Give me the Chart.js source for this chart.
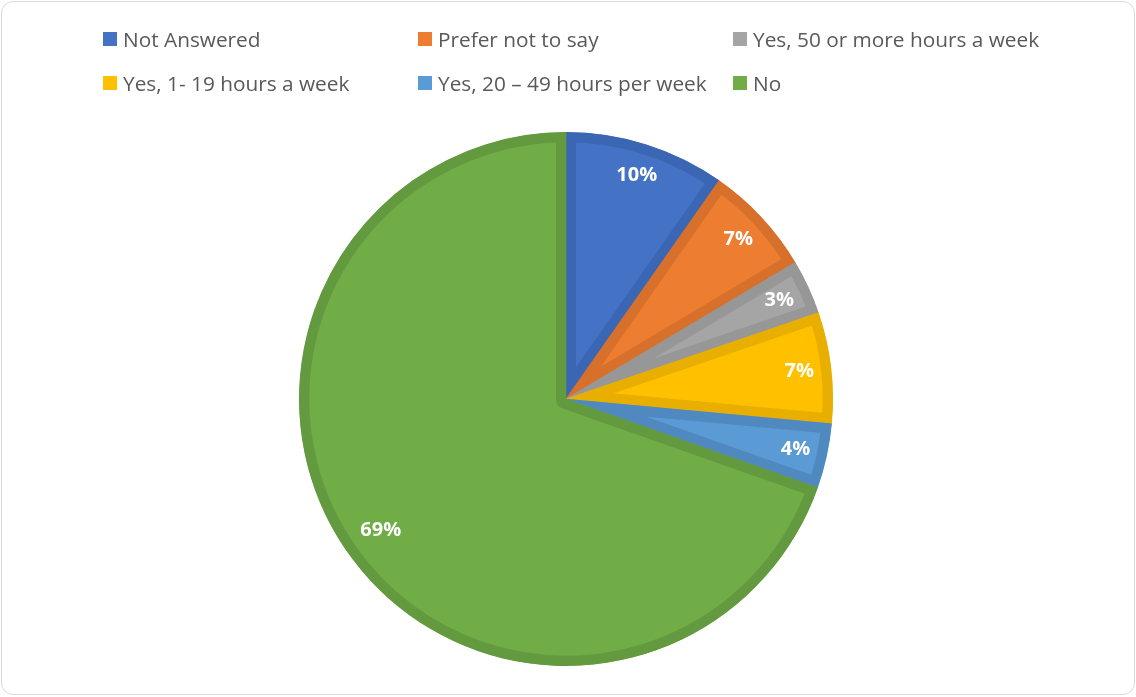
<!DOCTYPE html>
<html>
<head>
<meta charset="utf-8">
<script src="https://cdn.jsdelivr.net/npm/chart.js@4.4.1/dist/chart.umd.min.js"></script>
<style>
  html, body { margin: 0; padding: 0; background: #ffffff; }
  #wrap { position: relative; width: 1136px; height: 697px; overflow: hidden; background: #fff; }
  #frame { position: absolute; left: 1px; top: 1px; width: 1132px; height: 692px; border: 1px solid #d9d9d9; border-radius: 12px; pointer-events: none; }
  #legend { position: absolute; left: 0; top: 0; width: 1136px; height: 110px; font-family: "Open Sans", "Liberation Sans", sans-serif; font-size: 20.8px; color: #595959; }
  .item { position: absolute; white-space: nowrap; line-height: 24px; height: 24px; }
  .box { position: absolute; left: 0; top: 5px; width: 14px; height: 14px; }
  .txt { position: absolute; left: 20px; top: 0px; }
  canvas { position: absolute; left: 0; top: 0; }
</style>
</head>
<body>
<div id="wrap">
  <canvas id="c" width="1136" height="697"></canvas>
  <div id="legend"></div>
  <div id="frame"></div>
</div>
<script>
// ---- data ----
const categories = ["Not Answered", "Prefer not to say", "Yes, 50 or more hours a week", "Yes, 1- 19 hours a week", "Yes, 20 \u2013 49 hours per week", "No"];
const percentValues = [9.7, 6.7, 3.3, 6.7, 3.9, 69.4];
const fillColors = ["#4472C4", "#ED7D31", "#A5A5A5", "#FFC000", "#5B9BD5", "#70AD47"];
const edgeColors = ["#3A66B4", "#D7702A", "#979797", "#E8AE00", "#5089C0", "#649A3F"];

// ---- legend (two rows, three columns, Excel style) ----
const legendEl = document.getElementById('legend');
const colX = [103, 418, 733];
const rowY = [27, 71];
categories.forEach((name, i) => {
  const it = document.createElement('div');
  it.className = 'item';
  it.style.left = colX[i % 3] + 'px';
  it.style.top = rowY[Math.floor(i / 3)] + 'px';
  const b = document.createElement('div');
  b.className = 'box';
  b.style.background = fillColors[i];
  const t = document.createElement('div');
  t.className = 'txt';
  t.textContent = name;
  it.appendChild(b); it.appendChild(t);
  legendEl.appendChild(it);
});

// ---- percentage labels plugin ----
const pctLabels = {
  id: 'pctLabels',
  afterDatasetsDraw(chart) {
    const ctx = chart.ctx;
    const meta = chart.getDatasetMeta(0);
    ctx.save();
    ctx.font = 'bold 20px "Open Sans", "Liberation Sans", sans-serif';
    ctx.fillStyle = '#ffffff';
    ctx.textAlign = 'center';
    ctx.textBaseline = 'middle';
    meta.data.forEach((arc, i) => {
      const p = arc.getProps(['x', 'y', 'startAngle', 'endAngle', 'outerRadius'], true);
      const mid = (p.startAngle + p.endAngle) / 2;
      const r = p.outerRadius * (i === 5 ? 0.85 : 0.88);
      const x = p.x + Math.cos(mid) * r;
      const y = p.y + Math.sin(mid) * r;
      ctx.fillText(Math.round(percentValues[i]) + '%', x, y);
    });
    ctx.restore();
  }
};

new Chart(document.getElementById('c'), {
  type: 'pie',
  data: {
    labels: categories,
    datasets: [{
      data: percentValues,
      backgroundColor: fillColors,
      borderColor: edgeColors,
      borderWidth: 10,
      borderAlign: 'inner',
      hoverOffset: 0,
      offset: 0
    }]
  },
  options: {
    responsive: false,
    animation: false,
    events: [],
    layout: { padding: { top: 132, bottom: 31, left: 0, right: 4 } },
    plugins: {
      legend: { display: false },
      tooltip: { enabled: false }
    }
  },
  plugins: [pctLabels]
});
</script>
</body>
</html>
